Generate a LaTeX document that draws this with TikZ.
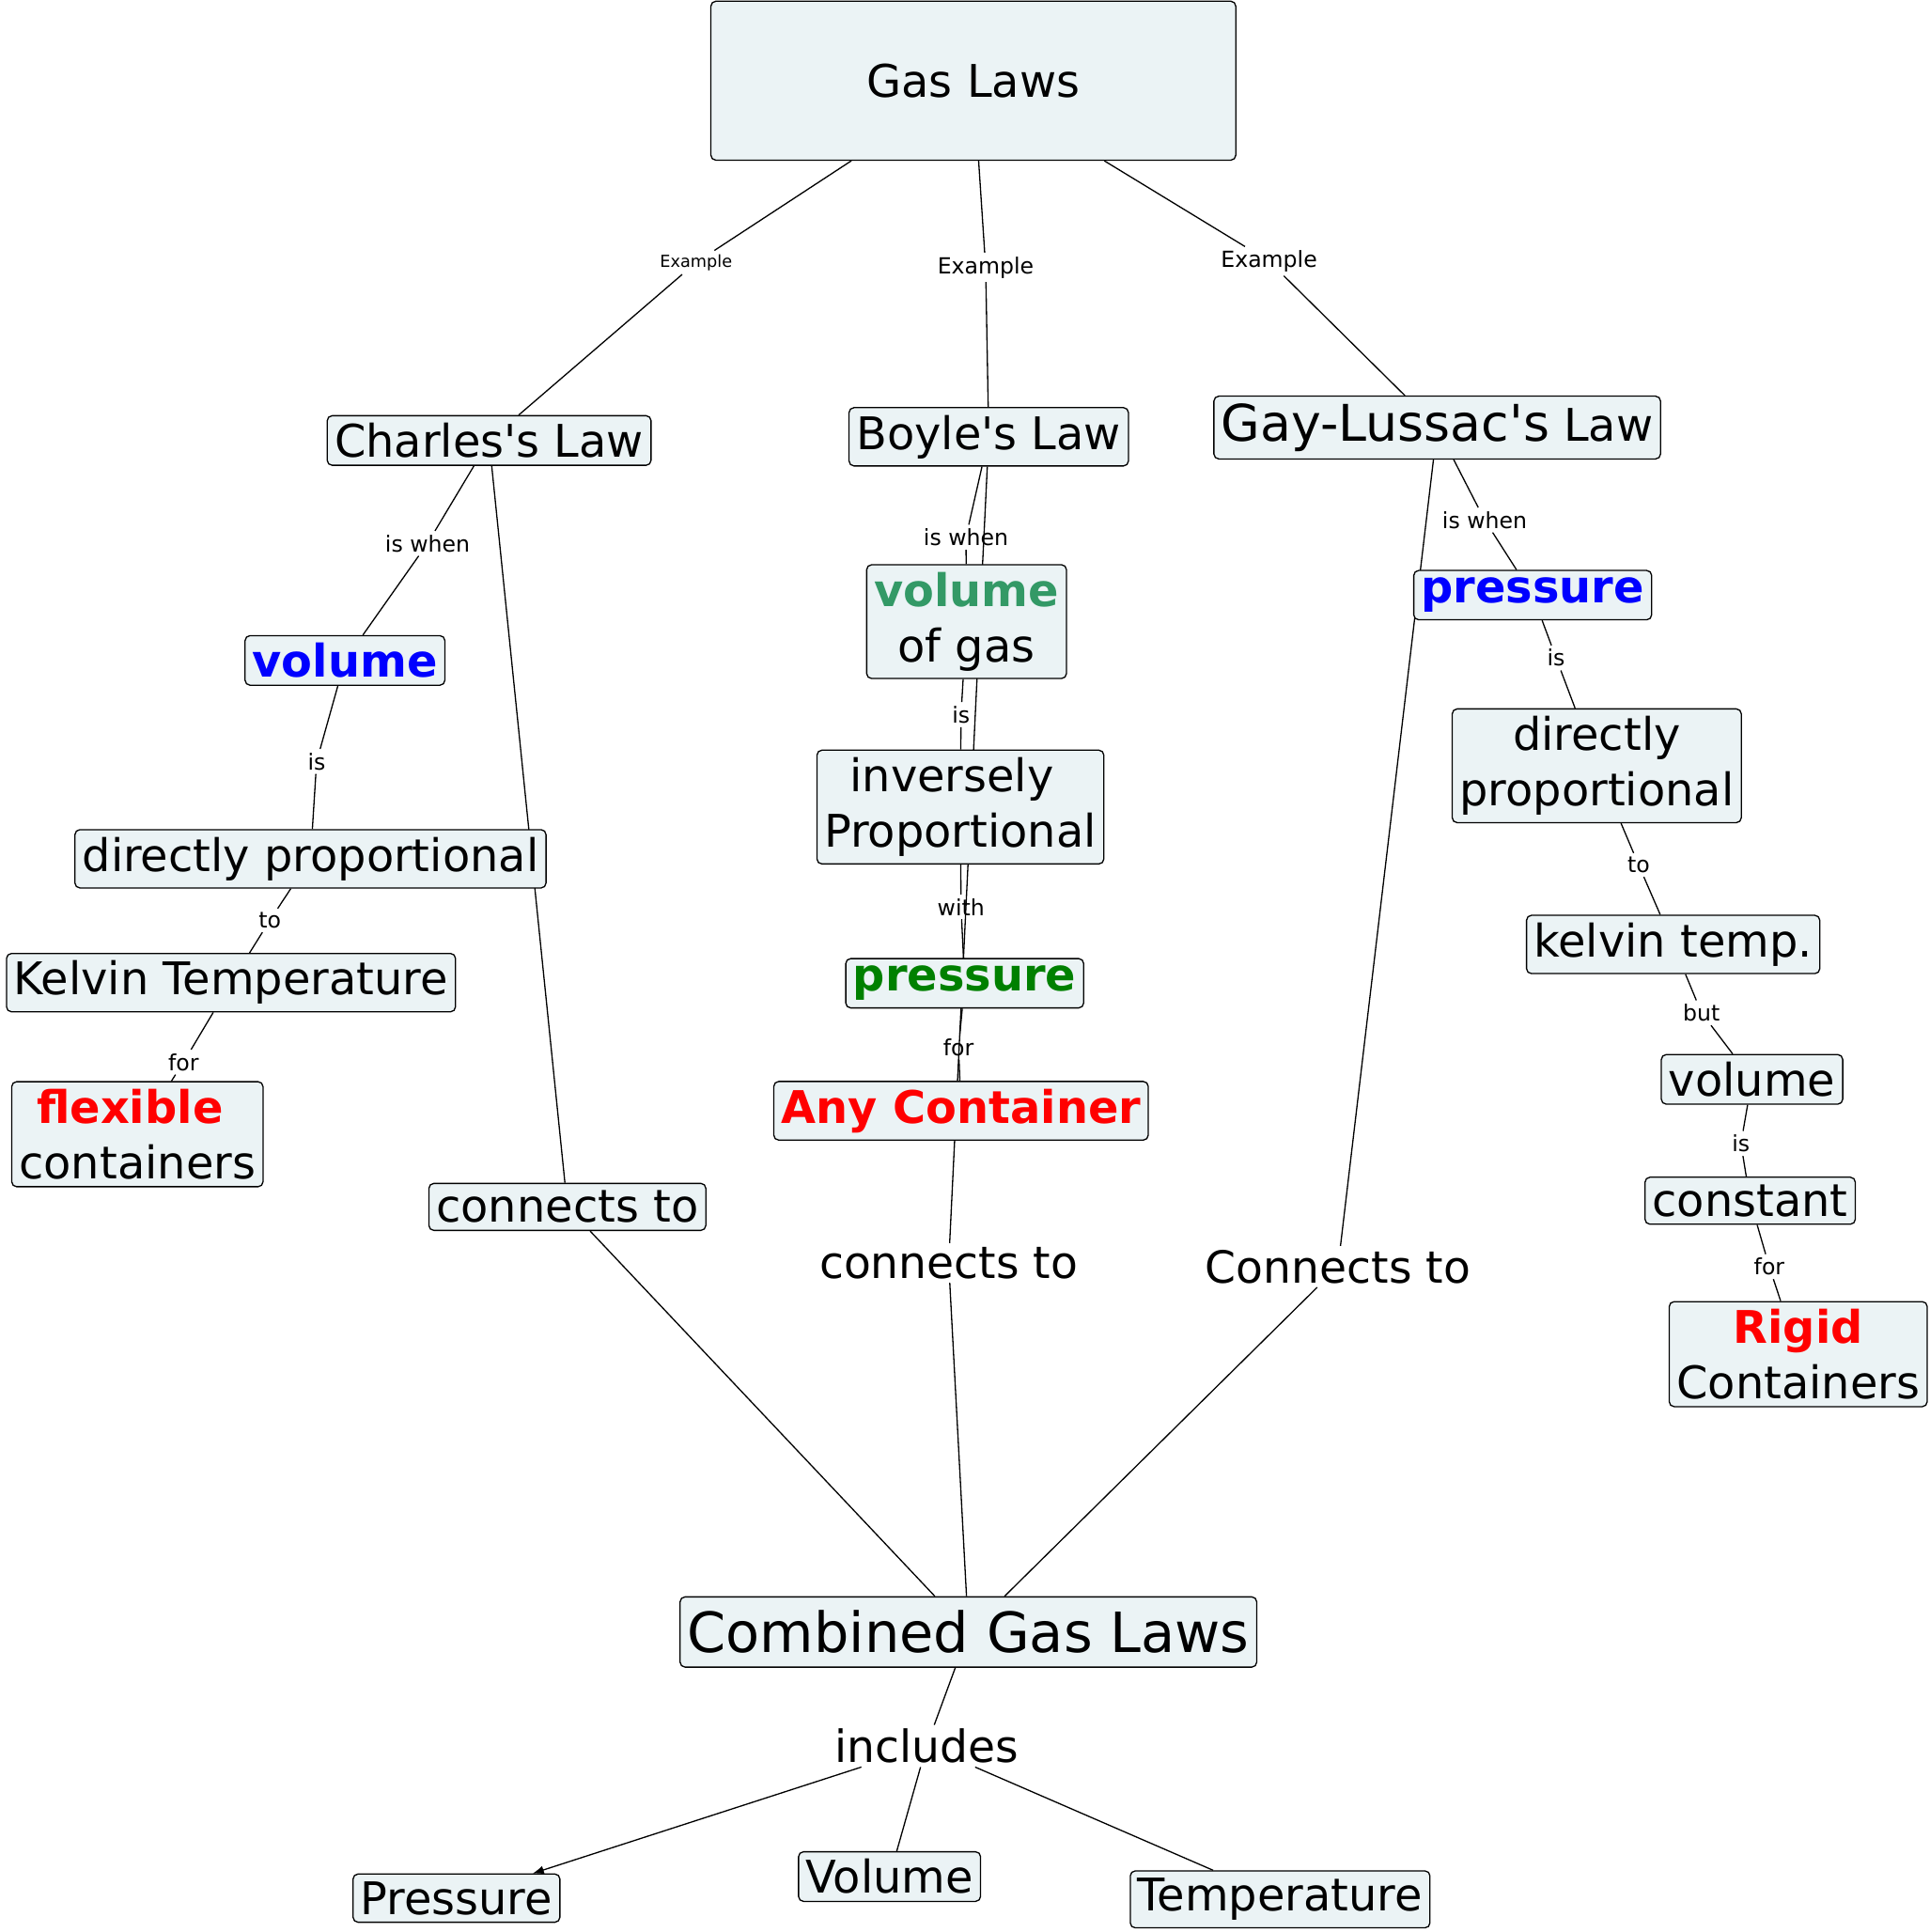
\documentclass[tikz,border=0pt]{standalone}
\usepackage{fontspec}
\setmainfont{DejaVu Sans}
\usetikzlibrary{arrows.meta,backgrounds}
\definecolor{conceptfill}{RGB}{235,243,245}
\definecolor{seagreen}{RGB}{51,153,102}
\definecolor{darkgreen}{RGB}{0,128,0}
\newcommand{\apos}{\textquotesingle}
\tikzset{
  concept/.style={draw, line width=1pt, rounded corners=4pt, fill=conceptfill,
    inner xsep=6pt, inner ysep=6pt, align=center,
    font=\fontsize{36.5}{45}\selectfont},
  linkword/.style={inner sep=3pt, font=\fontsize{18}{22}\selectfont},
  bigword/.style={inner sep=3pt, font=\fontsize{36}{44}\selectfont},
  link/.style={line width=1pt}
}
\begin{document}
\begin{tikzpicture}[x=1pt, y=-1pt]
    \useasboundingbox (0,0) rectangle (1566,1568);

    % Conceptos principales
    \node[concept, minimum width=426pt, minimum height=129pt] (gas) at (790,65.5) {Gas Laws};
    \node[concept] (charles) at (397,357.5) {Charles\apos s Law};
    \node[concept] (boyle) at (802.5,354.5) {Boyle\apos s Law};
    \node[concept] (gaylussac) at (1166.5,347) {{\fontsize{41}{48}\selectfont Gay-Lussac\apos s} Law};
    \node[concept, minimum height=57pt, font=\fontsize{45}{54}\selectfont] (combined) at (786,1324.5) {Combined Gas Laws};

    % Rama de Charles
    \node[concept, font=\fontsize{36.5}{45}\selectfont\bfseries, text=blue] (volC) at (280,536) {volume};
    \node[concept] (dirpropC) at (252,697) {directly proportional};
    \node[concept] (kelvinC) at (187.5,797.5) {Kelvin Temperature};
    \node[concept] (flexible) at (111.5,920.5) {{\bfseries\color{red}flexible}\hspace*{12pt}\\containers};
    \node[concept] (connectsC) at (460.5,979.5) {connects to};

    % Rama de Boyle
    \node[concept] (volgas) at (784.5,504.5) {{\bfseries\color{seagreen}volume}\\of gas};
    \node[concept] (inverse) at (779.5,655) {inversely\hspace*{14pt}\\Proportional};
    \node[concept, font=\fontsize{36.5}{45}\selectfont\bfseries, text=darkgreen] (presB) at (783,798) {pressure};
    \node[concept, font=\fontsize{36.5}{45}\selectfont\bfseries, text=red] (anycont) at (780,901.5) {Any Container};

    % Rama de Gay-Lussac
    \node[concept, font=\fontsize{36.5}{45}\selectfont\bfseries, text=blue] (presG) at (1244,483) {pressure};
    \node[concept] (dirpropG) at (1296,621.5) {directly\\proportional};
    \node[concept] (kelvinG) at (1358,766.5) {kelvin temp.};
    \node[concept] (volG) at (1422,876) {volume};
    \node[concept] (constant) at (1420.5,974.5) {constant};
    \node[concept] (rigid) at (1459.5,1099) {{\bfseries\color{red}Rigid}\\Containers};

    % Variables
    \node[concept] (pressure) at (370.5,1540.5) {Pressure};
    \node[concept] (volume) at (722,1523) {Volume};
    \node[concept] (temperature) at (1039,1541.5) {Temperature};

    % Frases de enlace
    \node[linkword, font=\fontsize{13.5}{16}\selectfont] (exC) at (565,213) {Example};
    \node[linkword] (exB) at (800,217) {Example};
    \node[linkword] (exG) at (1030,212) {Example};
    \node[linkword] (iswC) at (347,441) {is when};
    \node[linkword] (isC) at (257,618) {is};
    \node[linkword] (toC) at (219,747) {to};
    \node[linkword] (forC) at (149,862) {for};
    \node[linkword] (iswB) at (784,436) {is when};
    \node[linkword] (isB) at (780,580) {is};
    \node[linkword] (withB) at (780,736) {with};
    \node[linkword] (forB) at (778,850) {for};
    \node[linkword] (iswG) at (1205,422) {is when};
    \node[linkword] (isG) at (1263,534) {is};
    \node[linkword] (toG) at (1330,702) {to};
    \node[linkword] (butG) at (1381,822) {but};
    \node[linkword] (isG2) at (1413,928) {is};
    \node[linkword] (forG) at (1436,1028) {for};
    \node[bigword] (conB) at (770,1025) {connects to};
    \node[bigword] (conG) at (1086,1028) {Connects to};
    \node[bigword] (incl) at (752,1417) {includes};

    % Conectores
    \begin{scope}[on background layer]
        \draw[link] (gas) -- (exC) -- (charles);
        \draw[link] (gas) -- (exB) -- (boyle);
        \draw[link] (gas) -- (exG) -- (gaylussac);
        \draw[link] (charles) -- (iswC) -- (volC);
        \draw[link] (volC) -- (isC) -- (dirpropC);
        \draw[link] (dirpropC) -- (toC) -- (kelvinC);
        \draw[link] (kelvinC) -- (forC) -- (flexible);
        \draw[link] (charles) -- (connectsC) -- (combined);
        \draw[link] (boyle) -- (iswB) -- (volgas);
        \draw[link] (volgas) -- (isB) -- (inverse);
        \draw[link] (inverse) -- (withB) -- (presB);
        \draw[link] (presB) -- (forB) -- (anycont);
        \draw[link] (boyle) -- (conB) -- (combined);
        \draw[link] (gaylussac) -- (iswG) -- (presG);
        \draw[link] (presG) -- (isG) -- (dirpropG);
        \draw[link] (dirpropG) -- (toG) -- (kelvinG);
        \draw[link] (kelvinG) -- (butG) -- (volG);
        \draw[link] (volG) -- (isG2) -- (constant);
        \draw[link] (constant) -- (forG) -- (rigid);
        \draw[link] (gaylussac) -- (conG) -- (combined);
        \draw[link] (combined) -- (incl);
        \draw[link, -{Latex[length=9pt, width=7pt]}] (incl) -- (pressure);
        \draw[link] (incl) -- (volume);
        \draw[link] (incl) -- (temperature);
    \end{scope}
\end{tikzpicture}
\end{document}
